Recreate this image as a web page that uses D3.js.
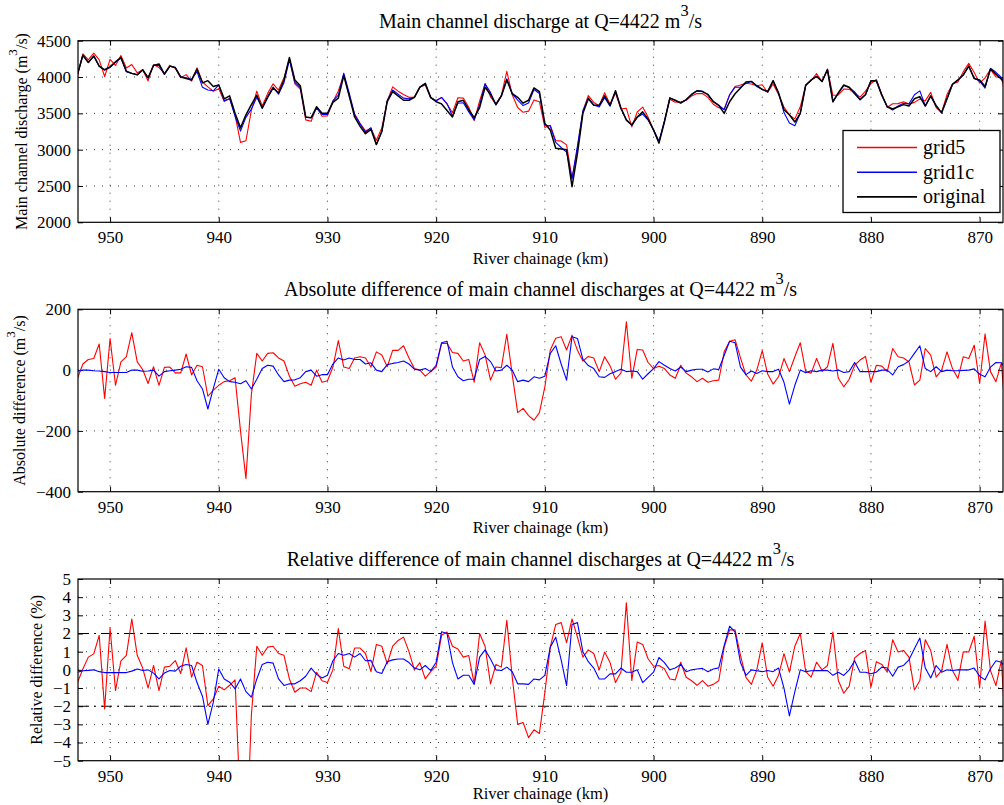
<!DOCTYPE html>
<html>
<head>
<meta charset="utf-8">
<script src="https://cdn.jsdelivr.net/npm/d3@7"></script>
<style>
body { margin: 0; background: #fff; }
svg text { font-family: "Liberation Serif", "Times New Roman", serif; fill: #000; }
</style>
</head>
<body>
<svg id="chart" width="1004" height="805"></svg>
<script>
// river chainage (km), every 0.5 km from 953 down to 867.5
const chainage = d3.range(953, 867.4, -0.5);

// original model, main channel discharge (m3/s)
const qOriginal = [
    4040, 4300, 4200, 4290, 4150, 4100, 4140, 4210, 4270, 4080,
    4050, 4030, 4100, 3990, 4160, 4180, 4040, 4150, 4130, 4000,
    3980, 3960, 4110, 3920, 3950, 3870, 3890, 3700, 3740, 3500,
    3300, 3480, 3620, 3750, 3570, 3720, 3850, 3780, 3960, 4270,
    3960, 3880, 3450, 3440, 3590, 3500, 3500, 3650, 3710, 4020,
    3740, 3450, 3320, 3220, 3280, 3070, 3250, 3660, 3800, 3740,
    3680, 3680, 3720, 3860, 3910, 3720, 3660, 3630, 3540, 3450,
    3660, 3680, 3550, 3440, 3580, 3860, 3760, 3620, 3740, 3960,
    3770, 3720, 3640, 3680, 3850, 3800, 3360, 3270, 3020, 3010,
    3000, 2490, 2950, 3500, 3700, 3610, 3610, 3740, 3610, 3810,
    3570, 3410, 3340, 3450, 3520, 3420, 3270, 3090, 3380, 3710,
    3680, 3640, 3690, 3760, 3810, 3800, 3760, 3660, 3610, 3500,
    3660, 3770, 3850, 3930, 3940, 3880, 3830, 3800, 3950, 3780,
    3550, 3480, 3380, 3500, 3890, 3960, 4010, 3940, 4100, 3660,
    3780, 3890, 3860, 3770, 3690, 3760, 3950, 3950, 3750, 3590,
    3560, 3590, 3620, 3600, 3700, 3730, 3600, 3740, 3600, 3510,
    3700, 3900, 3960, 4030, 4150, 3980, 3960, 3870, 4110, 4040,
    3970, 3880
];

// grid - original (m3/s)
const diffGrid5 = [
    -27, 20, 35, 38, 86, -93, 104, -50, 27, 44,
    123, 27, 2, -44, 11, -50, 9, 10, -9, -9,
    53, -16, 16, 11, -86, -66, -50, -38, -35, -25,
    -200, -357, -80, 55, 30, 55, 57, 40, 30, -20,
    -53, -45, -40, -50, 0, -40, -35, 10, 97, 10,
    5, 40, 44, 40, 10, 60, 50, 11, 65, 65,
    80, 40, 5, 0, -20, -5, 10, 88, 88, 58,
    55, 30, 35, -40, 90, 50, -33, 10, 8, 118,
    -15, -140, -126, -150, -165, -140, -55, 66, 105, 110,
    66, 115, 65, 30, 45, 40, -5, 44, 14, -30,
    -10, 159, -27, 68, 66, 25, 5, 13, 5, -16,
    -27, 16, -10, -22, -38, -27, -40, -35, -33, 60,
    95, 100, 40, -16, -36, 0, 64, -13, -46, -22,
    38, -5, 44, 90, -5, -10, 38, -5, 11, 88,
    -27, -55, -30, 16, 33, 45, -40, 16, 13, -5,
    71, 44, 40, 27, -49, -33, 71, 49, -22, 0,
    60, 5, -27, 44, 38, 82, -44, 119, -5, -38,
    24, -198
];

const diffGrid1c = [
    -3, 0, 0, -2, -3, -5, -8, -8, -8, -8,
    0, 0, -4, -3, 0, -20, -5, -2, 0, 3,
    11, 9, -35, -62, -128, -60, 3, -25, -38, -40,
    -45, -35, -62, -30, 5, 16, 13, -16, -38, -33,
    -32, -25, -5, 0, -20, -15, -15, 20, 40, 33,
    40, 35, 35, 20, 24, 0, -5, 18, 22, 25,
    30, 20, 3, 0, 5, -5, 16, 90, 95, 10,
    -22, -35, -30, -30, 35, 45, 28, -3, 0, 16,
    0, -38, -33, -38, -22, -27, -20, 55, 80, 20,
    -33, 110, 104, 35, 15, 5, -22, -24, -12, -5,
    3, -5, -3, -5, -30, -12, 5, 28, 16, 5,
    -3, 10, -5, 0, 3, 3, -6, 4, 2, 49,
    95, 90, 10, -15, -3, -11, -2, -5, -5, 3,
    -40, -112, -50, 0, -9, -2, -5, 0, 0, -3,
    0, -8, -5, 25, -5, -5, -5, -5, 0, 0,
    -16, 11, 18, 30, 55, 80, 5, -5, 11, -5,
    0, -2, -2, -1, 0, 4, -14, -22, 10, 25,
    24, 0
];

// relative difference (%)
const relGrid5 = [
    -0.7, 0.05, 0.7, 0.88, 1.9, -2.15, 2.3, -1.14, 0.5, 0.8,
    2.8, 0.8, 0.1, -1.0, 0.24, -1.14, 0.15, 0.2, 0.51, -0.2,
    1.21, -0.4, 0.42, 0.24, -1.97, -1.6, -0.9, -1.1, -0.85, -0.55,
    -7.8, -10.5, -2.5, 1.3, 0.8, 1.25, 1.3, 0.9, 0.8, -0.5,
    -1.23, -1.0, -1.0, -1.2, -0.13, -0.6, -0.7, 0.0, 2.27, 0.2,
    0.06, 1.2, 1.2, 0.9, -0.1, 1.4, 1.3, 0.33, 1.3, 1.62,
    1.8, 1.0, 0.0, 0.4, -0.5, -0.1, 0.2, 1.9, 2.08, 1.3,
    1.15, 0.7, 0.79, -0.77, 2.0, 1.3, -0.77, 0.3, 0.15, 2.73,
    -0.4, -3.0, -2.9, -3.73, -3.3, -3.5, -1.25, 1.25, 2.5, 2.6,
    1.5, 2.8, 1.8, 0.7, 1.1, 0.9, 0.0, 0.98, 0.4, -0.7,
    -0.13, 3.69, -0.59, 1.53, 1.4, 0.61, 0.2, 0.24, 0.06, -0.5,
    -0.55, 0.42, -0.41, -0.6, -0.85, -0.59, -0.9, -0.8, -0.6, 1.25,
    2.2, 2.2, 0.8, -0.41, -0.8, 0.0, 1.48, -0.41, -0.9, -0.3,
    0.89, -0.13, 1.3, 2.0, -0.1, -0.4, 0.42, 0.0, 0.24, 2.08,
    -0.59, -1.29, -0.9, 0.66, 0.9, 1.07, -0.96, 0.45, 0.3, -0.13,
    1.66, 0.98, 1.07, 0.7, -1.11, -0.59, 1.66, 1.07, -0.4, -0.04,
    1.4, -0.04, -0.59, 1.0, 0.98, 1.85, -1.0, 2.69, -0.04, -0.87,
    0.52, -4.6
];

const relGrid1c = [
    -0.13, -0.05, -0.03, 0.0, -0.1, -0.15, -0.15, -0.15, -0.15, -0.15,
    -0.07, 0.05, -0.04, 0.0, -0.18, -0.5, -0.18, -0.04, -0.07, 0.2,
    0.29, 0.24, -0.7, -1.45, -3.0, -1.78, 0.05, -0.5, -0.68, -1.05,
    -0.5, -1.2, -1.5, -0.5, 0.3, 0.42, 0.37, -0.5, -0.86, -0.77,
    -0.77, -0.6, -0.35, 0.1, -0.25, -0.45, -0.3, 0.5, 0.9, 0.8,
    0.9, 0.7, 0.9, 0.5, 0.52, -0.1, -0.2, 0.45, 0.55, 0.6,
    0.6, 0.4, 0.1, 0.0, 0.24, -0.04, 0.42, 2.1, 2.0, 0.4,
    -0.5, -0.3, -0.3, -0.8, 0.7, 1.1, 0.6, 0.0, -0.04, 0.15,
    -0.1, -0.77, -0.77, -0.8, -0.5, -0.55, -0.3, 1.25, 1.8, 0.55,
    -0.87, 2.5, 2.6, 1.0, 0.45, 0.1, -0.5, -0.5, -0.22, -0.22,
    0.1, -0.13, -0.13, 0.0, -0.7, -0.41, -0.13, 0.68, 0.4, 0.0,
    0.1, 0.3, -0.1, 0.0, 0.05, 0.08, -0.1, 0.05, 0.11, 1.35,
    2.4, 2.08, 0.4, -0.3, 0.0, -0.05, -0.1, -0.04, -0.1, 0.1,
    -1.0, -2.53, -1.2, 0.0, -0.1, -0.05, -0.04, -0.04, -0.04, -0.3,
    -0.13, -0.31, 0.0, 0.5, -0.13, -0.13, -0.22, -0.13, 0.15, 0.1,
    -0.35, 0.15, 0.24, 0.55, 1.16, 1.75, 0.1, -0.45, 0.24, -0.13,
    0.0, -0.04, 0.0, 0.0, 0.0, 0.1, -0.35, -0.55, 0.06, 0.5,
    0.42, 0.0
];

const xTicks = [950, 940, 930, 920, 910, 900, 890, 880, 870];
const qTicks = [2000, 2500, 3000, 3500, 4000, 4500];
const absTicks = [-400, -200, 0, 200];
const relTicks = [-5, -4, -3, -2, -1, 0, 1, 2, 3, 4, 5];
const relLimits = [-2, 2];
const seriesNames = ["grid5", "grid1c", "original"];
const seriesColors = ["#ff0000", "#0000ff", "#000000"];

// grid runs are stored as difference from the original run
const qGrid5 = qOriginal.map((q, i) => q + diffGrid5[i]);
const qGrid1c = qOriginal.map((q, i) => q + diffGrid1c[i]);

// text with a raised "3" (m^3/s)
function writeParts(sel, parts, fs) {
    let shift = 0;
    parts.forEach(p => {
        let t = sel.append("tspan").text(p.t);
        if (p.sup) {
            shift = fs * 0.6;
            t.attr("font-size", fs * 0.82).attr("dy", -shift);
        } else if (shift) {
            t.attr("dy", shift);
            shift = 0;
        }
    });
}

class ProfilePanel {
    constructor(_config, _data) {
        this.config = {
            parentElement: _config.parentElement,
            id: _config.id,
            left: 78,
            top: _config.top,
            width: 925,
            height: _config.height,
            yDomain: _config.yDomain,
            yTicks: _config.yTicks,
            title: _config.title,
            yLabel: _config.yLabel,
            yLabelX: _config.yLabelX,
            xLabelDy: _config.xLabelDy,
            refLines: _config.refLines || [],
            legend: _config.legend || false
        }
        this.data = _data;
        this.initVis();
    }

    initVis() {
        let vis = this;
        let c = vis.config;

        vis.xScale = d3.scaleLinear()
            .domain([952.95, 867.85])
            .range([0, c.width]);

        vis.yScale = d3.scaleLinear()
            .domain(c.yDomain)
            .range([c.height, 0]);

        vis.svg = d3.select(c.parentElement)
            .append("g")
            .attr("transform", `translate(${c.left},${c.top})`);

        vis.svg.append("clipPath")
            .attr("id", `clip-${c.id}`)
            .append("rect")
            .attr("width", c.width)
            .attr("height", c.height);

        // dotted grid
        vis.svg.append("g").selectAll("line")
            .data(xTicks)
            .join("line")
            .attr("x1", d => vis.xScale(d)).attr("x2", d => vis.xScale(d))
            .attr("y1", 0).attr("y2", c.height)
            .attr("stroke", "#222").attr("stroke-width", 0.9)
            .attr("stroke-dasharray", "1,7");

        vis.svg.append("g").selectAll("line")
            .data(c.yTicks.filter(d => d > c.yDomain[0] && d < c.yDomain[1]))
            .join("line")
            .attr("x1", 0).attr("x2", c.width)
            .attr("y1", d => vis.yScale(d)).attr("y2", d => vis.yScale(d))
            .attr("stroke", "#222").attr("stroke-width", 0.9)
            .attr("stroke-dasharray", "1,7");

        // dash-dot limits
        vis.svg.append("g").selectAll("line")
            .data(c.refLines)
            .join("line")
            .attr("x1", 0).attr("x2", c.width)
            .attr("y1", d => vis.yScale(d)).attr("y2", d => vis.yScale(d))
            .attr("stroke", "#000").attr("stroke-width", 1.1)
            .attr("stroke-dasharray", "11,5,2,5");

        // axes with inward ticks on all sides
        vis.xAxis = d3.axisBottom(vis.xScale).tickValues(xTicks)
            .tickSizeInner(-5).tickSizeOuter(0).tickPadding(9);
        vis.yAxis = d3.axisLeft(vis.yScale).tickValues(c.yTicks)
            .tickSizeInner(-5).tickSizeOuter(0).tickPadding(7)
            .tickFormat(d3.format("d"));

        vis.svg.append("g").attr("class", "x-axis axis")
            .attr("transform", `translate(0,${c.height})`);
        vis.svg.append("g").attr("class", "y-axis axis");

        vis.svg.append("g")
            .call(d3.axisTop(vis.xScale).tickValues(xTicks).tickSizeInner(-5).tickSizeOuter(0).tickFormat(""))
            .call(g => g.select(".domain").remove());
        vis.svg.append("g")
            .attr("transform", `translate(${c.width},0)`)
            .call(d3.axisRight(vis.yScale).tickValues(c.yTicks).tickSizeInner(-5).tickSizeOuter(0).tickFormat(""))
            .call(g => g.select(".domain").remove());

        vis.lines = vis.svg.append("g").attr("clip-path", `url(#clip-${c.id})`);

        vis.svg.append("rect")
            .attr("width", c.width).attr("height", c.height)
            .attr("fill", "none").attr("stroke", "#000").attr("stroke-width", 1.2);

        let title = vis.svg.append("text")
            .attr("x", c.width / 2).attr("y", -13)
            .attr("text-anchor", "middle")
            .attr("font-size", 20);
        writeParts(title, c.title, 20);

        vis.svg.append("text")
            .attr("x", c.width / 2).attr("y", c.height + c.xLabelDy)
            .attr("text-anchor", "middle")
            .attr("font-size", 16.5)
            .text("River chainage (km)");

        let ylab = vis.svg.append("text")
            .attr("transform", `translate(${c.yLabelX - c.left},${c.height / 2}) rotate(-90)`)
            .attr("text-anchor", "middle")
            .attr("font-size", 16);
        writeParts(ylab, c.yLabel, 16);

        vis.updateVis();
    }

    updateVis() {
        let vis = this;
        let c = vis.config;

        vis.svg.select(".x-axis").call(vis.xAxis)
            .call(g => g.select(".domain").remove());
        vis.svg.select(".y-axis").call(vis.yAxis)
            .call(g => g.select(".domain").remove());
        vis.svg.selectAll(".axis text").attr("font-size", 17);
        vis.svg.selectAll(".tick line").attr("stroke", "#000");

        let line = d3.line()
            .x((d, i) => vis.xScale(chainage[i]))
            .y(d => vis.yScale(d));

        vis.lines.selectAll(".series")
            .data(vis.data)
            .join("path")
            .attr("class", "series")
            .attr("fill", "none")
            .attr("stroke", d => d.color)
            .attr("stroke-width", d => d.width)
            .attr("stroke-linejoin", "round")
            .attr("d", d => line(d.values));

        if (c.legend) {
            let lg = vis.svg.append("g")
                .attr("transform", `translate(${843 - c.left},${130.5 - c.top})`);
            lg.append("rect")
                .attr("width", 157).attr("height", 82)
                .attr("fill", "#fff").attr("stroke", "#000").attr("stroke-width", 1.3);
            let items = lg.selectAll(".item")
                .data(seriesNames)
                .join("g")
                .attr("class", "item")
                .attr("transform", (d, i) => `translate(0,${17 + i * 24.7})`);
            items.append("line")
                .attr("x1", 14).attr("x2", 74)
                .attr("stroke", d => seriesColors[seriesNames.indexOf(d)])
                .attr("stroke-width", 1.6);
            items.append("text")
                .attr("x", 80).attr("y", 6.5)
                .attr("font-size", 20)
                .text(d => d);
        }
    }
}

const m3s = (s) => [{ t: s + " (m" }, { t: "3", sup: true }, { t: "/s)" }];

new ProfilePanel({
    parentElement: "#chart",
    id: "q",
    top: 40.7,
    height: 181.6,
    yDomain: [2000, 4500],
    yTicks: qTicks,
    title: [{ t: "Main channel discharge at Q=4422 m" }, { t: "3", sup: true }, { t: "/s" }],
    yLabel: m3s("Main channel discharge"),
    yLabelX: 27,
    xLabelDy: 42,
    legend: true
}, [
    { values: qGrid5, color: seriesColors[0], width: 1.1 },
    { values: qGrid1c, color: seriesColors[1], width: 1.1 },
    { values: qOriginal, color: seriesColors[2], width: 1.5 }
]);

new ProfilePanel({
    parentElement: "#chart",
    id: "abs",
    top: 309.3,
    height: 182.4,
    yDomain: [-400, 200],
    yTicks: absTicks,
    title: [{ t: "Absolute difference of main channel discharges at Q=4422 m" }, { t: "3", sup: true }, { t: "/s" }],
    yLabel: m3s("Absolute difference"),
    yLabelX: 25,
    xLabelDy: 41
}, [
    { values: diffGrid5, color: seriesColors[0], width: 1.1 },
    { values: diffGrid1c, color: seriesColors[1], width: 1.1 }
]);

new ProfilePanel({
    parentElement: "#chart",
    id: "rel",
    top: 579,
    height: 181.7,
    yDomain: [-5, 5],
    yTicks: relTicks,
    title: [{ t: "Relative difference of main channel discharges at Q=4422 m" }, { t: "3", sup: true }, { t: "/s" }],
    yLabel: [{ t: "Relative difference (%)" }],
    yLabelX: 42,
    xLabelDy: 38.5,
    refLines: relLimits
}, [
    { values: relGrid5, color: seriesColors[0], width: 1.1 },
    { values: relGrid1c, color: seriesColors[1], width: 1.1 }
]);
</script>
</body>
</html>
